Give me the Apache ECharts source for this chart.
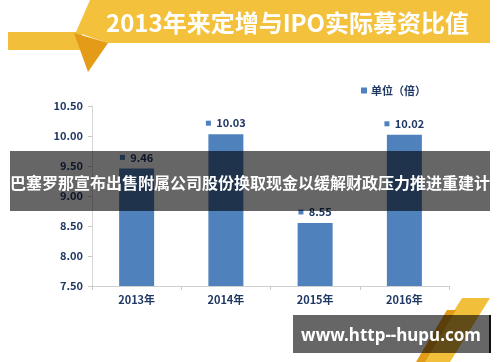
<!DOCTYPE html>
<html><head><meta charset="utf-8">
<script src="https://cdn.jsdelivr.net/npm/echarts@6/dist/echarts.min.js"></script>
<style>html,body{margin:0;padding:0;background:#fff}#c{width:500px;height:362px}</style>
</head><body><div id="c"></div>
<script>
var categories = ['2013年', '2014年', '2015年', '2016年'];
var values = [9.46, 10.03, 8.55, 10.02];
var seriesName = '单位（倍）';
var titleText = '2013年来定增与IPO实际募资比值';
var overlayText = '巴塞罗那宣布出售附属公司股份换取现金以缓解财政压力推进重建计';
var watermarkText = 'www.http--hupu.com';

var navy = '#1f3864';
var barColor = '#4f81bd';
var font = '"Noto Sans CJK SC", "Noto Sans", sans-serif';

var chart = echarts.init(document.getElementById('c'));
chart.setOption({
  backgroundColor: '#fff',
  animation: false,
  textStyle: { fontFamily: font },
  title: {
    text: titleText, left: 101, top: 6,
    textStyle: { color: '#fff', fontSize: 24, fontWeight: 'bold', fontFamily: font }
  },
  legend: {
    data: [seriesName], left: 356, top: 80, icon: 'rect', itemWidth: 6, itemHeight: 6, itemGap: 4,
    textStyle: { color: navy, fontSize: 11, fontWeight: 'bold', fontFamily: font, padding: [0,0,0,-1] }
  },
  grid: { left: 92, right: 51, top: 106, bottom: 76 },
  xAxis: {
    type: 'category', data: categories,
    axisLine: { lineStyle: { color: '#cfcfcf', width: 1 } },
    axisTick: { show: true, length: 4, lineStyle: { color: '#c8c8c8' } },
    axisLabel: { color: navy, fontSize: 11, fontWeight: 'bold', margin: 8, fontFamily: font }
  },
  yAxis: {
    type: 'value', min: 7.5, max: 10.5, interval: 0.5,
    axisLine: { show: true, lineStyle: { color: '#d6d6d6' } },
    axisTick: { show: true, length: 4, lineStyle: { color: '#c8c8c8' } },
    splitLine: { show: false },
    axisLabel: { color: navy, fontSize: 11, fontWeight: 'bold', margin: 9, fontFamily: font,
      formatter: function (v) { return v.toFixed(2); } }
  },
  series: [{
    name: seriesName, type: 'bar', data: values, barWidth: 35,
    itemStyle: { color: barColor },
    label: {
      show: true, position: 'top', distance: 5,
      formatter: function (p) { return '{s|}  {v|' + p.value.toFixed(2) + '}'; },
      rich: {
        s: { width: 5, height: 5, backgroundColor: barColor },
        v: { color: navy, fontSize: 11, fontWeight: 'bold', fontFamily: font }
      }
    }
  }],
  graphic: [
    { type: 'rect', shape: { x: 8, y: 32, width: 74, height: 18 }, style: { fill: '#f2bf3a' }, z: 1 },
    { type: 'polygon', shape: { points: [[90,0],[490,0],[490,43],[107,43],[76,32]] }, style: { fill: '#f3c13b' }, z: 2 },
    { type: 'polygon', shape: { points: [[74,33],[108,43],[88,72]] }, style: { fill: '#e39b18' }, z: 2 },
    { type: 'polygon', shape: { points: [[462,298],[490,298],[450,362],[422,362]] }, style: { fill: '#f2bf3a' }, z: 1 },
    { type: 'polygon', shape: { points: [[447,310],[456,310],[425,362],[416,362]] }, style: { fill: '#e39b18' }, z: 1 },
    { type: 'rect', shape: { x: 10, y: 151, width: 480, height: 60 }, style: { fill: 'rgba(0,0,0,0.6)' }, z: 100 },
    { type: 'text', x: 10, y: 183, z: 101,
      style: { text: overlayText, fill: '#fff', font: 'bold 16px ' + font, textVerticalAlign: 'middle', textAlign: 'left' } },
    { type: 'rect', shape: { x: 293, y: 315, width: 197, height: 38 }, style: { fill: 'rgba(0,0,0,0.6)' }, z: 100 },
    { type: 'rect', shape: { x: 489, y: 315, width: 2, height: 38 }, style: { fill: '#111' }, z: 100 },
    { type: 'text', x: 391, y: 336, z: 101,
      style: { text: watermarkText, fill: '#fff', font: 'bold 17px "Noto Sans", sans-serif', textVerticalAlign: 'middle', textAlign: 'center' } }
  ]
});
</script></body></html>
